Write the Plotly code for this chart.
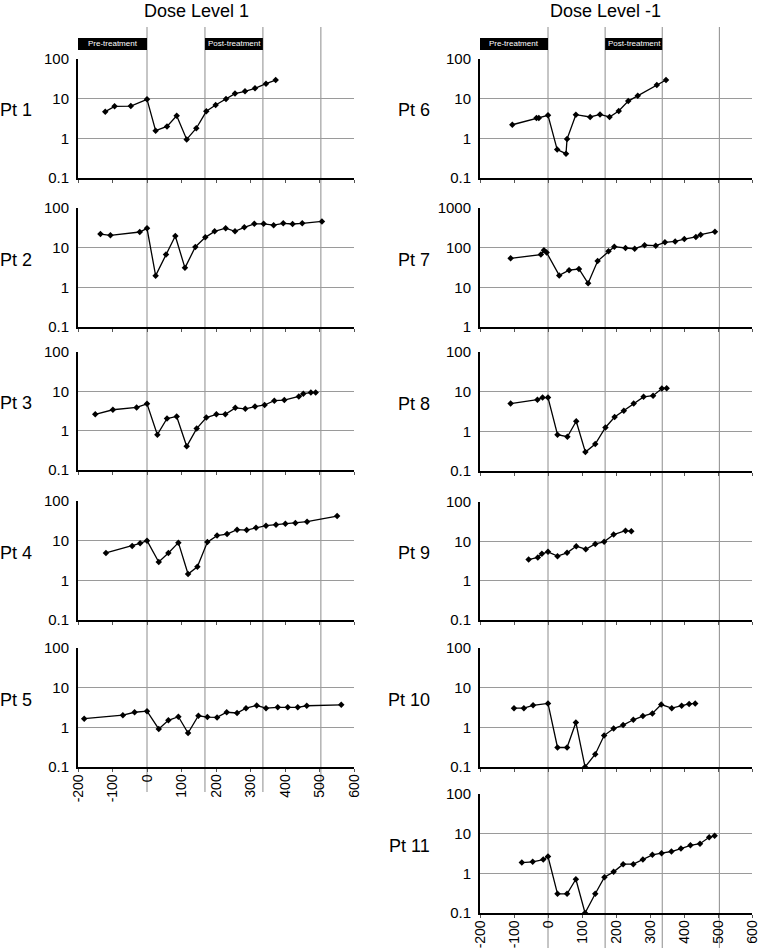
import plotly.graph_objects as go

# ---------------- data ----------------
pt1_days = [-121, -94, -47, 0, 25, 58, 86, 115, 143, 172, 199, 229, 255, 284, 313, 345, 373]
pt1_vals = [4.7, 6.4, 6.5, 9.6, 1.56, 2.0, 3.7, 0.94, 1.8, 4.8, 6.9, 9.8, 13.4, 15.3, 18.2, 23.9, 29.5]

pt2_days = [-135, -106, -21, 0, 25, 55, 82, 110, 140, 169, 196, 228, 255, 282, 311, 338, 367, 395, 422, 450, 507]
pt2_vals = [22, 20.5, 24.8, 30.7, 1.97, 6.7, 19.7, 3.1, 10.4, 18.2, 25.8, 31, 25.8, 32.6, 40, 40, 37, 41, 39.5, 41, 46]

pt3_days = [-150, -99, -30, 0, 30, 58, 86, 115, 144, 172, 201, 227, 256, 285, 313, 341, 369, 398, 440, 453, 475, 489]
pt3_vals = [2.6, 3.4, 3.9, 4.8, 0.79, 2.04, 2.3, 0.40, 1.13, 2.16, 2.6, 2.6, 3.8, 3.6, 4.1, 4.5, 5.8, 6.0, 7.4, 8.7, 9.3, 9.3]

pt4_days = [-119, -43, -20, 0, 34, 62, 91, 119, 146, 175, 203, 232, 261, 289, 316, 345, 374, 401, 430, 464, 551]
pt4_vals = [4.9, 7.3, 8.6, 10, 2.9, 4.9, 8.9, 1.44, 2.2, 9.2, 13.4, 14.7, 18.9, 18.5, 21.3, 23.9, 25.3, 26.7, 27.9, 30.1, 41.8]

pt5_days = [-182, -70, -36, 0, 34, 62, 91, 119, 149, 175, 203, 231, 261, 287, 318, 345, 379, 408, 437, 463, 563]
pt5_vals = [1.65, 2.03, 2.4, 2.56, 0.91, 1.5, 1.85, 0.72, 1.96, 1.81, 1.78, 2.4, 2.3, 3.04, 3.55, 3.04, 3.2, 3.2, 3.2, 3.5, 3.7]

pt6_days = [-105, -34, -27, 0, 27, 53, 56, 82, 124, 153, 181, 208, 236, 264, 320, 347]
pt6_vals = [2.2, 3.26, 3.26, 3.8, 0.52, 0.41, 0.96, 3.95, 3.45, 4.0, 3.45, 4.9, 8.7, 11.9, 22, 29.5]

pt7_days = [-110, -21, -12, -4, 33, 62, 91, 118, 146, 178, 195, 228, 255, 284, 317, 344, 374, 401, 435, 449, 491]
pt7_vals = [54, 67, 86, 75, 20, 27, 29, 12.6, 46, 81, 106, 98, 94, 115, 112, 136, 144, 165, 186, 213, 253]

pt8_days = [-110, -31, -16, 0, 28, 57, 83, 110, 139, 169, 196, 223, 252, 281, 309, 335, 349]
pt8_vals = [5.0, 6.3, 7.1, 7.1, 0.82, 0.73, 1.8, 0.30, 0.48, 1.25, 2.3, 3.3, 5.0, 7.4, 7.9, 12.0, 12.2]

pt9_days = [-57, -30, -18, 0, 28, 56, 83, 111, 139, 165, 193, 228, 245]
pt9_vals = [3.45, 3.9, 4.8, 5.4, 4.2, 5.1, 7.5, 6.3, 8.6, 9.7, 14.9, 18.7, 18.0]

pt10_days = [-100, -71, -44, 0, 28, 56, 82, 109, 139, 165, 193, 221, 251, 279, 307, 333, 364, 393, 415, 433]
pt10_vals = [3.04, 3.04, 3.6, 4.0, 0.31, 0.31, 1.33, 0.1, 0.21, 0.62, 0.93, 1.14, 1.55, 1.92, 2.24, 3.76, 3.04, 3.48, 3.9, 4.0]

pt11_days = [-77, -45, -14, 0, 28, 56, 82, 109, 139, 166, 193, 221, 251, 279, 307, 334, 363, 391, 419, 447, 474, 490]
pt11_vals = [1.87, 1.95, 2.23, 2.65, 0.305, 0.305, 0.71, 0.1, 0.305, 0.80, 1.09, 1.7, 1.7, 2.23, 2.93, 3.22, 3.55, 4.2, 5.1, 5.6, 8.1, 8.8]

patients = ["Pt 1", "Pt 2", "Pt 3", "Pt 4", "Pt 5", "Pt 6", "Pt 7", "Pt 8", "Pt 9", "Pt 10", "Pt 11"]
days = [pt1_days, pt2_days, pt3_days, pt4_days, pt5_days, pt6_days, pt7_days, pt8_days, pt9_days, pt10_days, pt11_days]
vals = [pt1_vals, pt2_vals, pt3_vals, pt4_vals, pt5_vals, pt6_vals, pt7_vals, pt8_vals, pt9_vals, pt10_vals, pt11_vals]

column_titles = ["Dose Level 1", "Dose Level -1"]
cycle_lines = [0, 168, 336, 504]
x_ticks = [-200, -100, 0, 100, 200, 300, 400, 500, 600]
y_ticks_std = [0.1, 1, 10, 100]
y_ticks_pt7 = [1, 10, 100, 1000]

# ---------------- layout geometry ----------------
W, H = 761, 948
def fx(p): return p / W
def fy(p): return 1 - p / H

FONT = "Arial, Liberation Sans, sans-serif"
left_dom = [fx(78), fx(354)]
right_dom = [fx(480), fx(752)]
left_rows = [(59, 178), (208, 327), (352, 470), (501, 620), (648, 767)]
right_rows = [(59, 178), (208, 327), (352, 471), (502, 620), (648, 767), (794, 913)]

fig = go.Figure()
layout = dict(width=W, height=H, margin=dict(l=0, r=0, t=0, b=0, autoexpand=False),
              template="none",
              paper_bgcolor="white", plot_bgcolor="rgba(0,0,0,0)",
              showlegend=False, font=dict(family=FONT, color="black"))

annotations = []
shapes = []

for i in range(11):
    n = i + 1
    xa = "x" if n == 1 else f"x{n}"
    ya = "y" if n == 1 else f"y{n}"
    left = i < 5
    row = left_rows[i] if left else right_rows[i - 5]
    bottom = (i == 4) or (i == 10)
    fig.add_trace(go.Scatter(x=days[i], y=vals[i], xaxis=xa, yaxis=ya, mode="lines+markers",
                             line=dict(color="black", width=1.3),
                             marker=dict(symbol="diamond", size=5, color="black")))
    yt = y_ticks_pt7 if n == 7 else y_ticks_std
    layout["xaxis" if n == 1 else f"xaxis{n}"] = dict(
        domain=left_dom if left else right_dom, anchor=ya, range=[-200, 600], automargin=False,
        showgrid=False, zeroline=False, showline=True, linecolor="black", linewidth=1.5,
        tickvals=x_ticks, ticks="outside", ticklen=3, tickcolor="#555", tickwidth=1,
        showticklabels=bottom, tickangle=-90, tickfont=dict(size=14, family=FONT),
        ticklabelstandoff=-3, ticklabeloverflow="allow",
        ticktext=[str(v) for v in x_ticks])
    layout["yaxis" if n == 1 else f"yaxis{n}"] = dict(
        domain=[fy(row[1]), fy(row[0])], anchor=xa, type="log", automargin=False,
        range=[0, 3] if n == 7 else [-1, 2],
        tickvals=yt, ticktext=[("%g" % v) for v in yt], ticks="",
        showgrid=True, gridcolor="#9a9a9a", gridwidth=1, zeroline=False,
        showline=True, linecolor="black", linewidth=2,
        tickfont=dict(size=15, family=FONT), ticklabelstandoff=4)
    annotations.append(dict(text=patients[i], xref="paper", yref="paper",
                            x=fx(34 if left else 432), y=fy((row[0] + row[1]) / 2 - 8),
                            xanchor="right", yanchor="middle", showarrow=False,
                            font=dict(size=18, family=FONT)))

# column titles
annotations.append(dict(text=column_titles[0], xref="paper", yref="paper", x=fx(197), y=fy(11),
                        xanchor="center", yanchor="middle", showarrow=False, font=dict(size=18, family=FONT)))
annotations.append(dict(text=column_titles[1], xref="paper", yref="paper", x=fx(605), y=fy(11),
                        xanchor="center", yanchor="middle", showarrow=False, font=dict(size=18, family=FONT)))

# treatment cycle lines and header boxes
for xref, ybot in (("x5", 792), ("x11", 948)):
    for c in cycle_lines:
        shapes.append(dict(type="line", xref=xref, yref="paper", x0=c, x1=c, y0=fy(ybot), y1=fy(27),
                           line=dict(color="#8c8c8c", width=1), layer="below"))
    shapes.append(dict(type="rect", xref=xref, yref="paper", x0=-200, x1=0, y0=fy(50), y1=fy(38),
                       fillcolor="black", line=dict(width=0), layer="above"))
    shapes.append(dict(type="rect", xref=xref, yref="paper", x0=168, x1=336, y0=fy(50), y1=fy(38),
                       fillcolor="black", line=dict(width=0), layer="above"))
    annotations.append(dict(text="Pre-treatment", xref=xref, yref="paper", x=-100, y=fy(44),
                            xanchor="center", yanchor="middle", showarrow=False,
                            font=dict(size=8, color="white", family=FONT)))
    annotations.append(dict(text="Post-treatment", xref=xref, yref="paper", x=254, y=fy(44),
                            xanchor="center", yanchor="middle", showarrow=False,
                            font=dict(size=8, color="white", family=FONT)))

layout["annotations"] = annotations
layout["shapes"] = shapes
fig.update_layout(**layout)
fig.write_html("out.html", config={"displayModeBar": False},
               post_script="document.documentElement.style.margin='0';document.body.style.margin='0';document.body.style.padding='0';document.body.style.overflow='hidden';")
